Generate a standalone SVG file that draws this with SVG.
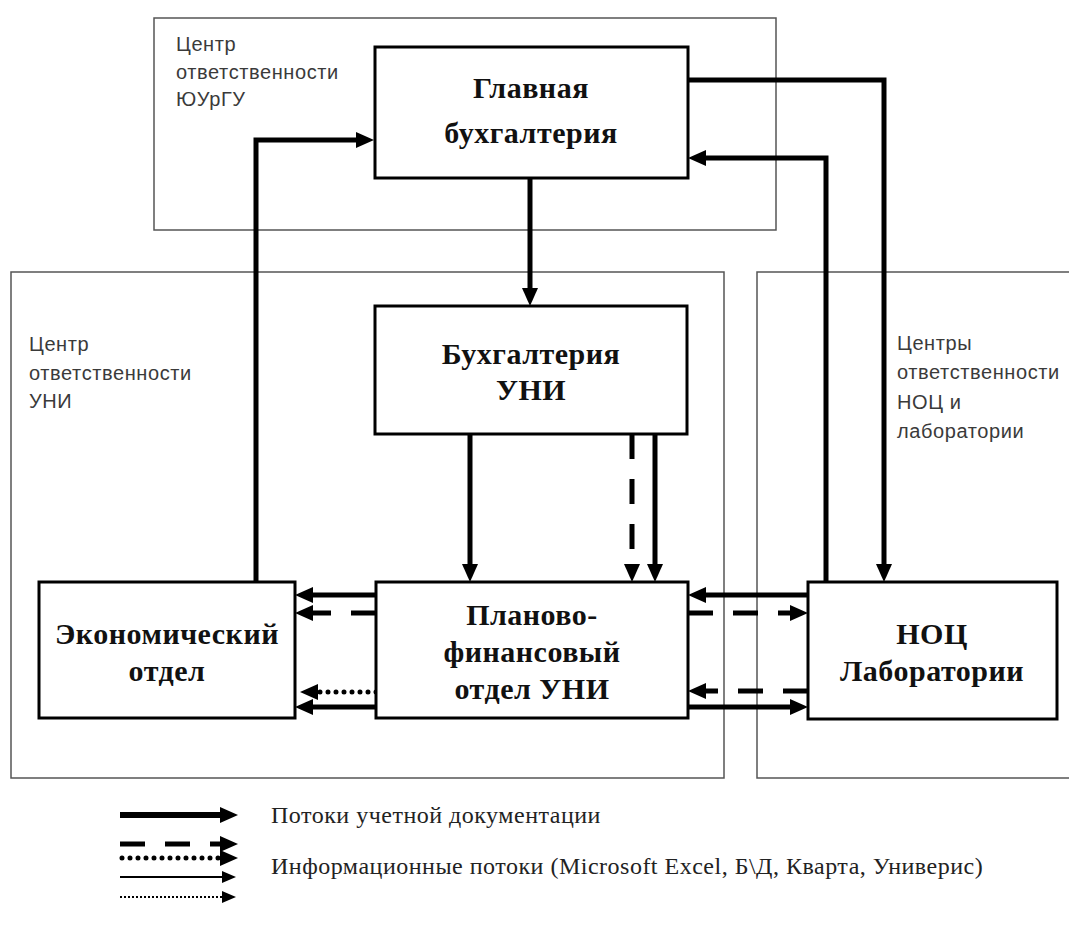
<svg xmlns="http://www.w3.org/2000/svg" width="1070" height="929" viewBox="0 0 1070 929">
<style>
.region{fill:none;stroke:#555;stroke-width:1.5}
.rlabel{font-family:"Liberation Sans",Arial,sans-serif;font-size:20px;letter-spacing:0.6px;fill:#3a3a3a}
.box{fill:#fff;stroke:#000;stroke-width:3}
.ntext{font-family:"Liberation Serif","Times New Roman",serif;font-size:30px;letter-spacing:0.5px;font-weight:bold;fill:#111;text-anchor:middle}
.c{fill:none;stroke:#000;stroke-width:5;stroke-linejoin:miter}
.dash{stroke-dasharray:25 20}
.dot{stroke-dasharray:0 8;stroke-linecap:round}
.arr{marker-end:url(#ah)}
.thin{fill:none;stroke:#000;stroke-width:2;marker-end:url(#ahs)}
.ltext{font-family:"Liberation Serif","Times New Roman",serif;font-size:24px;letter-spacing:0.5px;fill:#222}
</style>
<defs>
<marker id="ah" markerUnits="userSpaceOnUse" markerWidth="18" markerHeight="16" refX="8" refY="8" orient="auto">
<path d="M0,0 L18,8 L0,16 z" fill="#000"/>
</marker>
<marker id="ahs" markerUnits="userSpaceOnUse" markerWidth="14" markerHeight="12" refX="6" refY="6" orient="auto">
<path d="M0,0 L14,6 L0,12 z" fill="#000"/>
</marker>
</defs>
<rect width="1070" height="929" fill="#fff"/>

<g id="regions">
<g id="region-yurgu">
<rect class="region" x="154" y="18" width="622" height="212"/>
<text class="rlabel"><tspan x="176" y="51">Центр</tspan><tspan x="176" y="79">ответственности</tspan><tspan x="176" y="106">ЮУрГУ</tspan></text>
</g>
<g id="region-uni">
<rect class="region" x="11" y="272" width="713" height="506"/>
<text class="rlabel"><tspan x="29" y="351">Центр</tspan><tspan x="29" y="380">ответственности</tspan><tspan x="29" y="408">УНИ</tspan></text>
</g>
<g id="region-noc">
<path class="region" d="M1069,272 H757 V778 H1069"/>
<text class="rlabel"><tspan x="897" y="350">Центры</tspan><tspan x="897" y="379">ответственности</tspan><tspan x="897" y="409">НОЦ и</tspan><tspan x="897" y="438">лаборатории</tspan></text>
</g>
</g>

<g id="connectors">
<path class="c arr" d="M256,582 V140 H364"/>
<path class="c arr" d="M688,80 H884 V572"/>
<path class="c arr" d="M826,582 V158 H698"/>
<path class="c arr" d="M530,178 V296"/>
<path class="c arr" d="M470,434 V572"/>
<path class="c arr dash" d="M632,434 V572"/>
<path class="c arr" d="M655,434 V572"/>
<path class="c arr" d="M376,595 H305"/>
<path class="c arr dash" d="M376,613 H305"/>
<path class="c arr dot" d="M376,692 H310"/>
<path class="c arr" d="M376,707 H305"/>
<path class="c arr" d="M808,595 H698"/>
<path class="c arr dash" d="M688,613 H798"/>
<path class="c arr dash" d="M808,691 H698"/>
<path class="c arr" d="M688,707 H798"/>
</g>

<g id="node-glavnaya">
<rect class="box" x="375" y="47" width="313" height="131"/>
<text class="ntext"><tspan x="531" y="98">Главная</tspan><tspan x="531" y="143">бухгалтерия</tspan></text>
</g>
<g id="node-buh-uni">
<rect class="box" x="375" y="306" width="312" height="128"/>
<text class="ntext"><tspan x="531" y="364">Бухгалтерия</tspan><tspan x="531" y="400">УНИ</tspan></text>
</g>
<g id="node-pfo">
<rect class="box" x="376" y="582" width="312" height="136"/>
<text class="ntext"><tspan x="532" y="625">Планово-</tspan><tspan x="532" y="662">финансовый</tspan><tspan x="532" y="699">отдел УНИ</tspan></text>
</g>
<g id="node-econ">
<rect class="box" x="39" y="582" width="256" height="136"/>
<text class="ntext"><tspan x="167" y="644">Экономический</tspan><tspan x="167" y="681">отдел</tspan></text>
</g>
<g id="node-noc">
<rect class="box" x="808" y="582" width="249" height="137"/>
<text class="ntext"><tspan x="932" y="644">НОЦ</tspan><tspan x="932" y="681">Лаборатории</tspan></text>
</g>

<g id="legend">
<path class="c arr" style="stroke-width:6" d="M120,815 H228"/>
<text class="ltext" x="271" y="823">Потоки учетной документации</text>
<path class="c arr dash" d="M120,844 H228"/>
<path class="c arr dot" d="M122,858 H228"/>
<path class="thin" d="M120,877 H228"/>
<path class="thin" style="stroke-dasharray:2 2" d="M120,897 H228"/>
<text class="ltext" x="271" y="874">Информационные потоки (Microsoft Excel, Б\Д, Кварта, Универис)</text>
</g>
</svg>
